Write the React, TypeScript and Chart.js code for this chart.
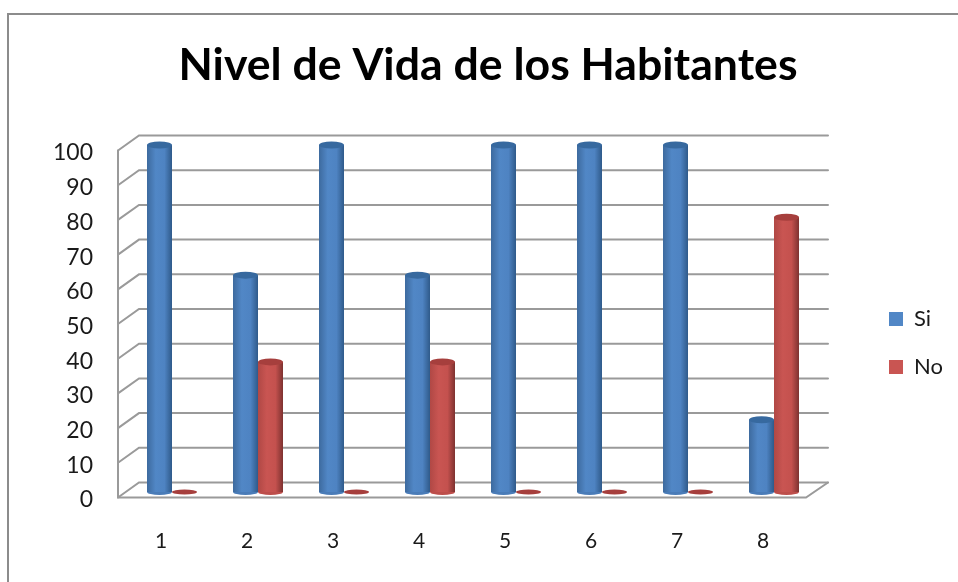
import React, { useEffect, useRef } from "react";
import { Chart, registerables } from "chart.js";

Chart.register(...registerables);

const TITLE = "Nivel de Vida de los Habitantes";
const categories = ["1", "2", "3", "4", "5", "6", "7", "8"];
const siValues = [100, 62.5, 100, 62.5, 100, 100, 100, 20.8];
const noValues = [0, 37.5, 0, 37.5, 0, 0, 0, 79.2];
const yTicks = [0, 10, 20, 30, 40, 50, 60, 70, 80, 90, 100];

const FONT = "Lato, Carlito, Calibri, sans-serif";
const CAT_PCT = 50 / 86;
const GRID = "#9a9a9a";
const BLUE_STOPS = ["#3d6a9e", "#5187c6", "#4e83c2", "#2f5a8a"];
const RED_STOPS = ["#b04845", "#c95552", "#c4514e", "#7e3230"];
const CAP_COLORS = ["#37699f", "#a63f3d"];
const BASE_COLORS = ["#4a7cb8", "#bd4e4b"];

function barGradient(ctx: any, stops: string[]) {
  const chart = ctx.chart;
  const x = chart.scales.x;
  if (!x || x.width === undefined || ctx.dataIndex === undefined) return stops[1];
  const w = (x.width / categories.length) * CAT_PCT * 0.5;
  const c = x.getPixelForValue(ctx.dataIndex);
  const x0 = c + (ctx.datasetIndex - 1) * w;
  const g = chart.ctx.createLinearGradient(x0, 0, x0 + w, 0);
  g.addColorStop(0, stops[0]);
  g.addColorStop(0.35, stops[1]);
  g.addColorStop(0.7, stops[2]);
  g.addColorStop(1, stops[3]);
  return g;
}

const scene = {
  id: "scene",
  afterLayout(chart: any) {
    const t = chart.titleBlock;
    if (t) {
      t.left = 18;
      t.right = 958;
    }
    const l = chart.legend;
    if (l) {
      const h = 240;
      l.left = 863;
      l.right = 958;
      l.width = 95;
      l.top = 343 - h / 2;
      l.bottom = 343 + h / 2;
      l.height = h;
    }
  },
  beforeDraw(chart: any) {
    const ctx = chart.ctx;
    ctx.save();
    ctx.strokeStyle = "#8c8c8c";
    ctx.lineWidth = 2;
    ctx.beginPath();
    ctx.moveTo(8, 582);
    ctx.lineTo(8, 14);
    ctx.lineTo(958, 14);
    ctx.stroke();
    ctx.restore();
  },
  beforeDatasetsDraw(chart: any) {
    const { ctx, chartArea, scales } = chart;
    const y = scales.y;
    const frontL = chartArea.left - 11;
    const backL = chartArea.left + 10;
    const frontR = chartArea.right - 11;
    const backR = chartArea.right + 11;
    const front = (v: number) => y.getPixelForValue(v) + 5.5;
    const back = (v: number) => y.getPixelForValue(v) - 9.5;
    ctx.save();
    ctx.strokeStyle = GRID;
    ctx.lineWidth = 2;
    ctx.lineCap = "round";
    yTicks.forEach((v) => {
      ctx.beginPath();
      ctx.moveTo(frontL, front(v));
      ctx.lineTo(backL, back(v));
      ctx.lineTo(backR, back(v));
      ctx.stroke();
    });
    ctx.beginPath();
    ctx.moveTo(frontL, front(100));
    ctx.lineTo(frontL, front(0));
    ctx.lineTo(frontR, front(0));
    ctx.lineTo(backR, back(0));
    ctx.stroke();
    chart.data.datasets.forEach((_: any, di: number) => {
      chart.getDatasetMeta(di).data.forEach((el: any) => {
        if (Math.abs(el.y - el.base) < 0.5) return;
        ctx.fillStyle = BASE_COLORS[di];
        ctx.beginPath();
        ctx.ellipse(el.x, el.base, el.width / 2, 3, 0, 0, Math.PI * 2);
        ctx.fill();
      });
    });
    ctx.restore();
  },
  afterDatasetsDraw(chart: any) {
    const ctx = chart.ctx;
    ctx.save();
    chart.data.datasets.forEach((_: any, di: number) => {
      chart.getDatasetMeta(di).data.forEach((el: any) => {
        const flat = Math.abs(el.y - el.base) < 0.5;
        ctx.fillStyle = CAP_COLORS[di];
        ctx.beginPath();
        ctx.ellipse(el.x, el.y, el.width / 2, flat ? 2.5 : 3.5, 0, 0, Math.PI * 2);
        ctx.fill();
      });
    });
    ctx.restore();
  },
};

export default function App() {
  const ref = useRef<HTMLCanvasElement | null>(null);
  useEffect(() => {
    if (!ref.current) return;
    const chart = new Chart(ref.current, {
      type: "bar",
      data: {
        labels: categories,
        datasets: [
          {
            label: "Si",
            data: siValues,
            backgroundColor: (c: any) => barGradient(c, BLUE_STOPS),
          },
          {
            label: "No",
            data: noValues,
            backgroundColor: (c: any) => barGradient(c, RED_STOPS),
          },
        ],
      },
      options: {
        animation: false,
        responsive: false,
        devicePixelRatio: 1,
        layout: { padding: { left: 0, right: 141, top: 0, bottom: 0 } },
        datasets: {
          bar: { barPercentage: 1, categoryPercentage: CAT_PCT, clip: false as any },
        },
        scales: {
          x: {
            border: { display: false },
            grid: { display: false, drawTicks: false },
            ticks: {
              color: "#1a1a1a",
              font: { family: FONT, size: 21 },
              padding: 37,
              labelOffset: -11,
              maxRotation: 0,
            },
            afterFit: (s: any) => {
              s.height = 90;
            },
          },
          y: {
            min: 0,
            max: 100,
            border: { display: false },
            grid: { display: false, drawTicks: false },
            ticks: {
              stepSize: 10,
              color: "#1a1a1a",
              font: { family: FONT, size: 23 },
              padding: 36,
              labelOffset: 8,
            },
            afterFit: (s: any) => {
              s.width = 129;
            },
          },
        },
        plugins: {
          title: {
            display: true,
            text: TITLE,
            color: "#000",
            font: { family: FONT, size: 44.6, weight: "bold" },
            padding: { top: 39, bottom: 52.5 },
          },
          legend: {
            position: "chartArea" as any,
            align: "center",
            labels: {
              boxWidth: 14,
              boxHeight: 14,
              color: "#1a1a1a",
              font: { family: FONT, size: 22 },
              padding: 26,
              generateLabels: (ch: any) =>
                ch.data.datasets.map((d: any, i: number) => ({
                  text: d.label,
                  fillStyle: i === 0 ? BLUE_STOPS[1] : RED_STOPS[1],
                  strokeStyle: "transparent",
                  lineWidth: 0,
                  fontColor: "#1a1a1a",
                  datasetIndex: i,
                })),
            },
          },
          tooltip: { enabled: false },
        },
      },
      plugins: [scene],
    });
    return () => chart.destroy();
  }, []);
  return (
    <div style={{ position: "absolute", left: 0, top: 0, width: 958, height: 582 }}>
      <canvas ref={ref} width={958} height={582} style={{ display: "block", filter: "blur(0.4px)" }} />
    </div>
  );
}
